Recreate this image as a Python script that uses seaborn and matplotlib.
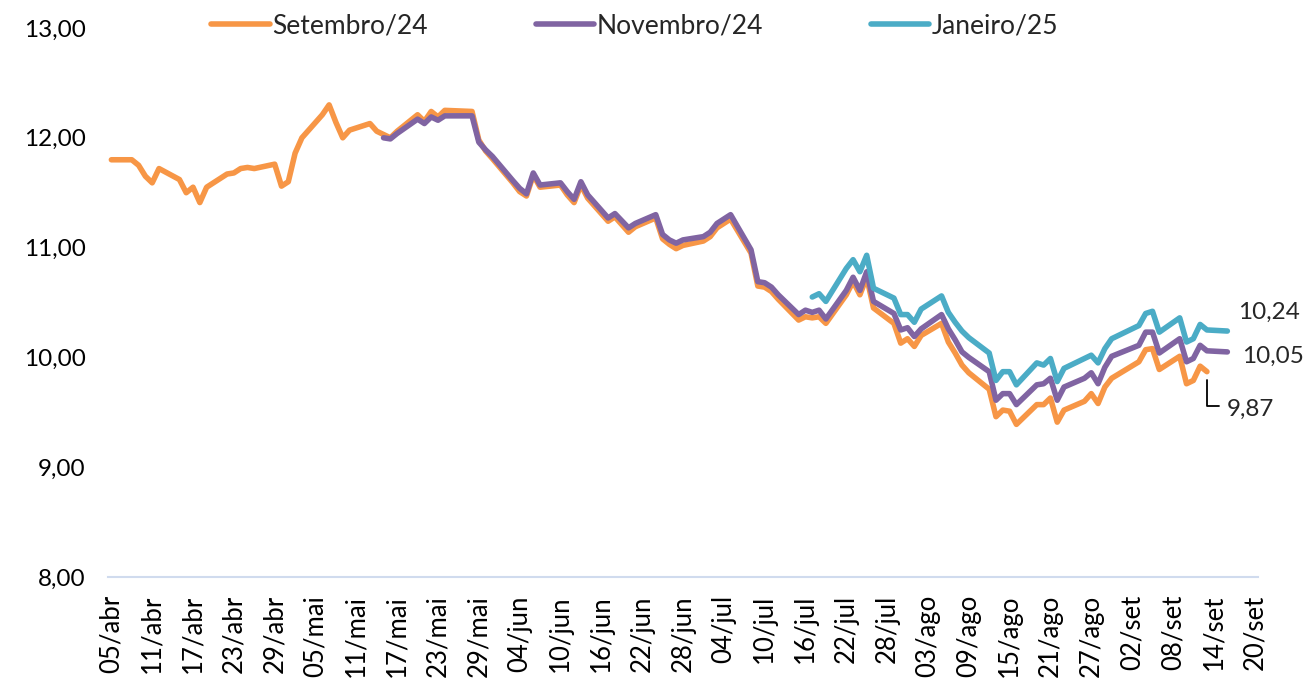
import matplotlib
matplotlib.use("Agg")
import matplotlib.pyplot as plt
import seaborn as sns
import pandas as pd

# ---------------- data ----------------
dias_abr = ["05", "08", "09", "10", "11", "12", "15", "16", "17", "18", "19", "22", "23", "24", "25", "26", "29", "30"]
dias_mai = ["01", "02", "03", "06", "07", "08", "09", "10", "13", "14", "15", "16", "17", "20", "21", "22", "23", "24", "28", "29", "30", "31"]
dias_jun = ["03", "04", "05", "06", "07", "10", "11", "12", "13", "14", "17", "18", "20", "21", "24", "25", "26", "27", "28"]
dias_jul = ["01", "02", "03", "05", "08", "09", "10", "11", "12", "15", "16", "17", "18", "19", "22", "23", "24", "25", "26", "29", "30", "31"]
dias_ago = ["01", "02", "05", "06", "07", "08", "09", "12", "13", "14", "15", "16", "19", "20", "21", "22", "23", "26", "27", "28", "29", "30"]
dias_set = ["03", "04", "05", "06", "09", "10", "11", "12", "13", "16"]

datas = ([f"2024-04-{d}" for d in dias_abr] + [f"2024-05-{d}" for d in dias_mai] +
         [f"2024-06-{d}" for d in dias_jun] + [f"2024-07-{d}" for d in dias_jul] +
         [f"2024-08-{d}" for d in dias_ago] + [f"2024-09-{d}" for d in dias_set])

N = None
setembro24 = (
    [11.80, 11.80, 11.75, 11.65, 11.59, 11.72, 11.62, 11.50, 11.55, 11.41, 11.55, 11.67, 11.68, 11.72, 11.73, 11.72, 11.76, 11.56] +
    [11.60, 11.86, 12.00, 12.21, 12.30, 12.14, 12.00, 12.07, 12.13, 12.06, 12.03, 12.00, 12.06, 12.21, 12.15, 12.24, 12.19, 12.25, 12.24, 11.98, 11.88, 11.81] +
    [11.59, 11.51, 11.47, 11.66, 11.55, 11.57, 11.48, 11.41, 11.57, 11.45, 11.24, 11.28, 11.14, 11.19, 11.27, 11.08, 11.03, 10.99, 11.02] +
    [11.06, 11.10, 11.18, 11.26, 10.95, 10.65, 10.64, 10.60, 10.53, 10.34, 10.37, 10.36, 10.37, 10.31, 10.57, 10.69, 10.57, 10.73, 10.45, 10.31, 10.13, 10.17] +
    [10.10, 10.20, 10.31, 10.14, 10.04, 9.93, 9.86, 9.71, 9.46, 9.52, 9.51, 9.39, 9.57, 9.57, 9.63, 9.41, 9.52, 9.60, 9.67, 9.58, 9.73, 9.81] +
    [9.96, 10.07, 10.08, 9.89, 10.01, 9.76, 9.79, 9.92, 9.87, N]
)
novembro24 = (
    [N] * 18 +
    [N] * 10 + [12.00, 11.99, 12.04, 12.17, 12.13, 12.19, 12.16, 12.20, 12.20, 11.96, 11.89, 11.83] +
    [11.61, 11.54, 11.49, 11.68, 11.57, 11.59, 11.51, 11.44, 11.60, 11.48, 11.27, 11.31, 11.18, 11.22, 11.30, 11.12, 11.07, 11.04, 11.07] +
    [11.10, 11.14, 11.22, 11.30, 10.98, 10.69, 10.68, 10.64, 10.57, 10.39, 10.43, 10.41, 10.43, 10.35, 10.61, 10.73, 10.61, 10.78, 10.51, 10.40, 10.25, 10.27] +
    [10.19, 10.26, 10.39, 10.26, 10.16, 10.05, 10.00, 9.87, 9.61, 9.67, 9.67, 9.57, 9.75, 9.76, 9.81, 9.61, 9.73, 9.81, 9.86, 9.76, 9.91, 10.01] +
    [10.11, 10.23, 10.23, 10.04, 10.17, 9.96, 9.99, 10.11, 10.06, 10.05]
)
janeiro25 = (
    [N] * 18 + [N] * 22 + [N] * 19 +
    [N] * 11 + [10.55, 10.58, 10.51, 10.81, 10.89, 10.78, 10.93, 10.63, 10.54, 10.39, 10.39] +
    [10.32, 10.44, 10.56, 10.41, 10.32, 10.24, 10.18, 10.04, 9.79, 9.87, 9.87, 9.75, 9.95, 9.93, 9.99, 9.78, 9.90, 9.99, 10.02, 9.95, 10.08, 10.17] +
    [10.29, 10.40, 10.42, 10.23, 10.36, 10.14, 10.17, 10.30, 10.25, 10.24]
)

series = ["Setembro/24", "Novembro/24", "Janeiro/25"]
cores = ["#F79646", "#8064A2", "#4BACC6"]

tick_labels = ["05/abr", "11/abr", "17/abr", "23/abr", "29/abr", "05/mai", "11/mai", "17/mai",
               "23/mai", "29/mai", "04/jun", "10/jun", "16/jun", "22/jun", "28/jun", "04/jul",
               "10/jul", "16/jul", "22/jul", "28/jul", "03/ago", "09/ago", "15/ago", "21/ago",
               "27/ago", "02/set", "08/set", "14/set", "20/set"]
y_ticks = [8, 9, 10, 11, 12, 13]

# ---------------- build table ----------------
df = pd.DataFrame({"data": pd.to_datetime(datas),
                   series[0]: setembro24, series[1]: novembro24, series[2]: janeiro25})
longo = df.melt(id_vars="data", var_name="contrato", value_name="valor").dropna()
longo["valor"] = longo["valor"].astype(float)

# ---------------- plot ----------------
sns.set_style("white")
plt.rcParams["font.family"] = ["Lato", "DejaVu Sans"]

fig = plt.figure(figsize=(13.04, 6.80), dpi=100)
ax = fig.add_axes([0.0828, 0.1515, 0.8819, 0.8073])

sns.lineplot(data=longo, x="data", y="valor", hue="contrato", hue_order=series,
             palette=cores, linewidth=4, ax=ax, estimator=None)
for ln in ax.get_lines():
    ln.set_solid_joinstyle("round")
    ln.set_solid_capstyle("round")

t0 = pd.Timestamp("2024-04-05")
tick_pos = [t0 + pd.Timedelta(days=6 * i) for i in range(len(tick_labels))]
ax.set_xlim(t0 - pd.Timedelta(hours=12), tick_pos[-1] + pd.Timedelta(hours=12))
ax.set_xticks(tick_pos)
ax.set_xticklabels(tick_labels, rotation=90, fontsize=18.5, color="black")
ax.set_ylim(8, 13)
ax.set_yticks(y_ticks)
ax.set_yticklabels([f"{v:.2f}".replace(".", ",") for v in y_ticks], fontsize=17.5, color="black")
ax.tick_params(axis="y", length=0, pad=16)
ax.tick_params(axis="x", length=0, pad=13)
ax.set_xlabel("")
ax.set_ylabel("")
for s in ["left", "right", "top"]:
    ax.spines[s].set_visible(False)
ax.spines["bottom"].set_color("#D0DBEE")
ax.spines["bottom"].set_linewidth(1.5)
ax.grid(False)

# legend
handles, labels = ax.get_legend_handles_labels()
ax.legend(handles, labels, loc="center", bbox_to_anchor=(0.487, 0.962),
          bbox_transform=fig.transFigure, ncol=3, frameon=False, fontsize=19,
          handlelength=2.2, handletextpad=0.1, columnspacing=4.1)

# end labels
fmt = lambda v: f"{v:.2f}".replace(".", ",")
d_set = df["data"][df[series[0]].notna()].iloc[-1]
v_set = df[series[0]].dropna().iloc[-1]
d_nov = df["data"][df[series[1]].notna()].iloc[-1]
v_nov = df[series[1]].dropna().iloc[-1]
d_jan = df["data"][df[series[2]].notna()].iloc[-1]
v_jan = df[series[2]].dropna().iloc[-1]

ax.text(d_jan + pd.Timedelta(days=1.5), v_jan + 0.17, fmt(v_jan), fontsize=17.5, va="center", ha="left")
ax.text(d_nov + pd.Timedelta(days=2.2), v_nov - 0.04, fmt(v_nov), fontsize=17.5, va="center", ha="left")
ax.text(d_set + pd.Timedelta(days=2.9), v_set - 0.34, fmt(v_set), fontsize=17.5, va="center", ha="left")
ax.plot([d_set, d_set, d_set + pd.Timedelta(days=1.7)],
        [v_set - 0.08, v_set - 0.31, v_set - 0.31], color="black", linewidth=1.3)

fig.savefig("out.png", dpi=100)
